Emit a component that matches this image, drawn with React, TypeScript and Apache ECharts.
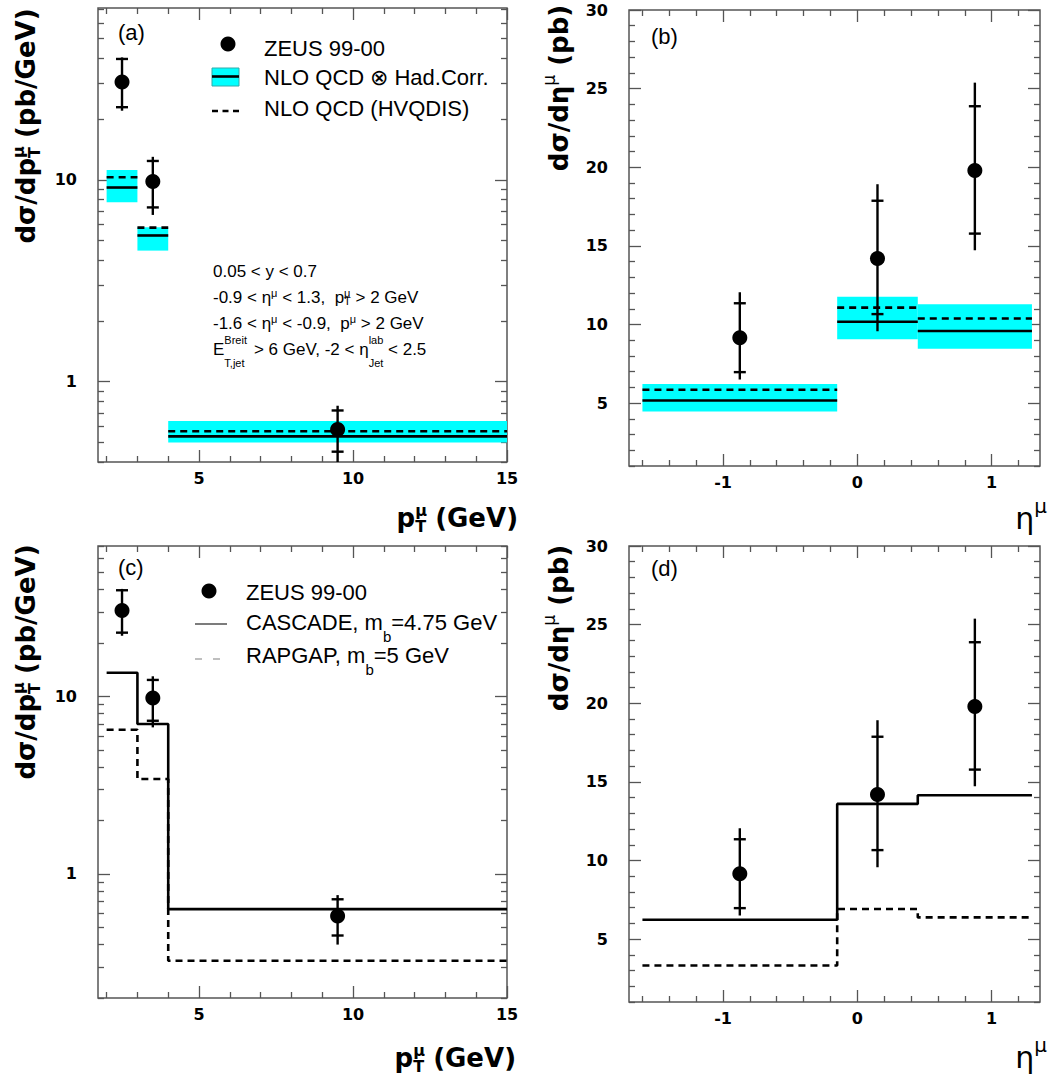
import React, { useEffect, useRef } from 'react';
import * as echarts from 'echarts';

// ---------------- data ----------------
const ptEdges = [2, 3, 4, 15];
const ptCenters = [2.5, 3.5, 9.5];
const ptData = [30.5, 9.8, 0.58];
const ptStatLo = [22.9, 7.3, 0.45];
const ptStatHi = [39.7, 12.4, 0.72];
const ptTotLo = [22.0, 6.7, 0.4];
const ptTotHi = [40.4, 13.0, 0.76];
const ptNloLo = [7.74, 4.46, 0.499];
const ptNloHi = [11.2, 5.82, 0.638];
const ptNloHad = [9.16, 5.3, 0.536];
const ptNloHvq = [10.3, 5.8, 0.568];
const ptCascade = [13.6, 7.0, 0.634];
const ptRapgap = [6.5, 3.43, 0.324];

const etaEdges = [-1.6, -0.15, 0.45, 1.3];
const etaCenters = [-0.875, 0.15, 0.875];
const etaData = [9.15, 14.2, 19.8];
const etaStatLo = [6.97, 10.66, 15.78];
const etaStatHi = [11.35, 17.87, 23.88];
const etaTotLo = [6.5, 9.57, 14.72];
const etaTotHi = [12.05, 18.92, 25.38];
const etaNloLo = [4.47, 9.06, 8.46];
const etaNloHi = [6.22, 11.77, 11.28];
const etaNloHad = [5.17, 10.17, 9.59];
const etaNloHvq = [5.85, 11.07, 10.38];
const etaCascade = [6.23, 13.6, 14.15];
const etaRapgap = [3.32, 6.91, 6.38];

// tick values
const ptMajorTicks = [5, 10, 15];
const ptMinorTicks = [2, 3, 4, 6, 7, 8, 9, 11, 12, 13, 14];
const etaMajorTicks = [-1, 0, 1];
const etaMinorTicks = [-1.6, -1.4, -1.2, -0.8, -0.6, -0.4, -0.2, 0.2, 0.4, 0.6, 0.8, 1.2];
const logMajorTicks = [1, 10];
const logMinorTicksA = [0.4, 0.5, 0.6, 0.7, 0.8, 0.9, 2, 3, 4, 5, 6, 7, 8, 9, 20, 30, 40, 50, 60, 70];
const logMinorTicksC = [0.2, 0.3, 0.4, 0.5, 0.6, 0.7, 0.8, 0.9, 2, 3, 4, 5, 6, 7, 8, 9, 20, 30, 40, 50, 60, 70];
const linMajorTicks = [5, 10, 15, 20, 25, 30];
const linMinorTicks = [1, 2, 3, 4, 6, 7, 8, 9, 11, 12, 13, 14, 16, 17, 18, 19, 21, 22, 23, 24, 26, 27, 28, 29];

// ---------------- styles / layout ----------------
const FRAME = '#555';
const CYAN = '#00ffff';
const TICKFONT = 'DejaVu Sans';
const TXTFONT = 'Liberation Sans';

type Panel = {
  kind: 'pt' | 'eta';
  model: 'nlo' | 'mc';
  grid: { left: number; top: number; width: number; height: number };
  xMin: number; xMax: number; yMin: number; yMax: number;
  log: boolean;
  yMinor: number[];
};

const panels: Panel[] = [
  { kind: 'pt', model: 'nlo', grid: { left: 98, top: 8, width: 409, height: 454 }, xMin: 1.72, xMax: 15, yMin: 0.4, yMax: 71, log: true, yMinor: logMinorTicksA },
  { kind: 'eta', model: 'nlo', grid: { left: 629, top: 10, width: 411, height: 456 }, xMin: -1.7, xMax: 1.36, yMin: 1, yMax: 30, log: false, yMinor: linMinorTicks },
  { kind: 'pt', model: 'mc', grid: { left: 98, top: 546, width: 409, height: 452 }, xMin: 1.72, xMax: 15, yMin: 0.2, yMax: 70.5, log: true, yMinor: logMinorTicksC },
  { kind: 'eta', model: 'mc', grid: { left: 629, top: 546, width: 411, height: 456 }, xMin: -1.7, xMax: 1.36, yMin: 1, yMax: 30, log: false, yMinor: linMinorTicks },
];

function tickAxis(gridIndex: number, position: string, min: number, max: number, ticks: number[], len: number, labels: boolean, fmt?: (v: number) => string, margin = 8) {
  return {
    type: 'value',
    gridIndex,
    position,
    min,
    max,
    axisLine: { show: false, onZero: false },
    splitLine: { show: false },
    minorTick: { show: false },
    axisTick: { show: true, inside: true, length: len, customValues: ticks, lineStyle: { color: FRAME, width: 1.3 } },
    axisLabel: labels
      ? { show: true, customValues: ticks, margin, fontFamily: TICKFONT, fontWeight: 'bold', fontSize: 16, color: '#000', formatter: fmt }
      : { show: false },
  };
}

const renderBand = (_p: any, api: any) => {
  const p1 = api.coord([api.value(0), api.value(3)]);
  const p2 = api.coord([api.value(1), api.value(2)]);
  return { type: 'rect', shape: { x: p1[0], y: p1[1], width: p2[0] - p1[0], height: p2[1] - p1[1] }, style: { fill: CYAN } };
};

const renderSeg = (dashed: boolean) => (_p: any, api: any) => {
  const p1 = api.coord([api.value(0), api.value(2)]);
  const p2 = api.coord([api.value(1), api.value(2)]);
  return {
    type: 'line',
    shape: { x1: p1[0], y1: p1[1], x2: p2[0], y2: p2[1] },
    style: { stroke: '#000', lineWidth: 2.6, lineDash: dashed ? [7, 5] : null, fill: null },
  };
};

const renderErr = (_p: any, api: any) => {
  const x = api.value(0);
  const tLo = api.coord([x, api.value(2)]);
  const tHi = api.coord([x, api.value(3)]);
  const sLo = api.coord([x, api.value(4)]);
  const sHi = api.coord([x, api.value(5)]);
  const st = { stroke: '#000', lineWidth: 2.4 };
  const hw = 6;
  return {
    type: 'group',
    children: [
      { type: 'line', shape: { x1: tHi[0], y1: tHi[1], x2: tLo[0], y2: tLo[1] }, style: st },
      { type: 'line', shape: { x1: sHi[0] - hw, y1: sHi[1], x2: sHi[0] + hw, y2: sHi[1] }, style: st },
      { type: 'line', shape: { x1: sLo[0] - hw, y1: sLo[1], x2: sLo[0] + hw, y2: sLo[1] }, style: st },
    ],
  };
};

const histPoints = (edges: number[], vals: number[]) => edges.map((e, i) => [e, vals[Math.min(i, vals.length - 1)]]);

// ---------------- text helpers ----------------
function txt(x: number, y: number, text: string, extra: any = {}, el: any = {}) {
  const align = extra.align || 'left';
  return {
    type: 'text',
    x,
    y,
    silent: true,
    ...el,
    style: {
      text,
      fontFamily: TXTFONT,
      fontSize: 22,
      fill: '#000',
      ...extra,
      align,
      verticalAlign: 'middle',
      textAlign: align,
      textVerticalAlign: 'middle',
    },
  };
}

const L = { align: 'left', fill: '#000' };

const titleRich = {
  m: { ...L, fontFamily: TICKFONT, fontWeight: 'bold', fontSize: 26, lineHeight: 36 },
  sz: { ...L, fontFamily: TICKFONT, fontWeight: 'bold', fontSize: 16, height: 20, verticalAlign: 'top', width: 0 },
  sb: { ...L, fontFamily: TICKFONT, fontWeight: 'bold', fontSize: 16, height: 20, verticalAlign: 'bottom' },
  su: { ...L, fontFamily: TICKFONT, fontWeight: 'normal', fontSize: 17, height: 16, verticalAlign: 'top' },
};

const etaRich = {
  e: { ...L, fontFamily: TICKFONT, fontSize: 30, lineHeight: 40 },
  u: { ...L, fontFamily: TICKFONT, fontSize: 20, height: 14, verticalAlign: 'top' },
};

const annRich = {
  n: { ...L, fontFamily: TXTFONT, fontSize: 17, lineHeight: 28 },
  s1: { ...L, fontFamily: TXTFONT, fontSize: 11, height: 18, verticalAlign: 'top' },
  s1z: { ...L, fontFamily: TXTFONT, fontSize: 11, height: 18, verticalAlign: 'top', width: 0 },
  b1: { ...L, fontFamily: TXTFONT, fontSize: 11, height: 22, verticalAlign: 'bottom' },
  s2z: { ...L, fontFamily: TXTFONT, fontSize: 11, height: 8, verticalAlign: 'top', width: 0 },
  b2: { ...L, fontFamily: TXTFONT, fontSize: 11, height: 2, verticalAlign: 'bottom' },
};

const legRich = {
  l: { ...L, fontFamily: TXTFONT, fontSize: 22, lineHeight: 44 },
  lb: { ...L, fontFamily: TXTFONT, fontSize: 15, height: 16, verticalAlign: 'bottom' },
};

function buildOption() {
  const xAxis: any[] = [];
  const yAxis: any[] = [];
  const series: any[] = [];

  panels.forEach((p, gi) => {
    const xMaj = p.kind === 'pt' ? ptMajorTicks : etaMajorTicks;
    const xMin = p.kind === 'pt' ? ptMinorTicks : etaMinorTicks;
    const xi = xAxis.length;
    const fmtLin = (v: number) => String(v);
    xAxis.push(tickAxis(gi, 'bottom', p.xMin, p.xMax, xMaj, 12, true, fmtLin, 8));
    xAxis.push(tickAxis(gi, 'bottom', p.xMin, p.xMax, xMin, 6, false));
    xAxis.push(tickAxis(gi, 'top', p.xMin, p.xMax, xMaj, 12, false));
    xAxis.push(tickAxis(gi, 'top', p.xMin, p.xMax, xMin, 6, false));

    const yi = yAxis.length;
    yAxis.push(
      p.log
        ? { type: 'log', logBase: 10, gridIndex: gi, min: p.yMin, max: p.yMax, show: false, axisLine: { onZero: false } }
        : { type: 'value', gridIndex: gi, min: p.yMin, max: p.yMax, show: false, axisLine: { onZero: false } }
    );
    const tf = p.log ? (v: number) => Math.log10(v) : (v: number) => v;
    const yMaj = (p.log ? logMajorTicks : linMajorTicks).map(tf);
    const yMinor = p.yMinor.map(tf);
    const fmtY = p.log ? (v: number) => String(Math.round(Math.pow(10, v))) : (v: number) => String(v);
    const lo = tf(p.yMin);
    const hi = tf(p.yMax);
    yAxis.push(tickAxis(gi, 'left', lo, hi, yMaj, 12, true, fmtY, 21));
    yAxis.push(tickAxis(gi, 'left', lo, hi, yMinor, 6, false));
    yAxis.push(tickAxis(gi, 'right', lo, hi, yMaj, 12, false));
    yAxis.push(tickAxis(gi, 'right', lo, hi, yMinor, 6, false));

    const edges = p.kind === 'pt' ? ptEdges : etaEdges;
    const centers = p.kind === 'pt' ? ptCenters : etaCenters;
    const vals = p.kind === 'pt' ? ptData : etaData;
    const sLo = p.kind === 'pt' ? ptStatLo : etaStatLo;
    const sHi = p.kind === 'pt' ? ptStatHi : etaStatHi;
    const tLo = p.kind === 'pt' ? ptTotLo : etaTotLo;
    const tHi = p.kind === 'pt' ? ptTotHi : etaTotHi;
    const common = { xAxisIndex: xi, yAxisIndex: yi, silent: true, animation: false };

    if (p.model === 'nlo') {
      const nLo = p.kind === 'pt' ? ptNloLo : etaNloLo;
      const nHi = p.kind === 'pt' ? ptNloHi : etaNloHi;
      const had = p.kind === 'pt' ? ptNloHad : etaNloHad;
      const hvq = p.kind === 'pt' ? ptNloHvq : etaNloHvq;
      series.push({
        ...common, type: 'custom', name: 'NLO QCD band', z: 1,
        encode: { x: [0, 1], y: [2, 3] },
        data: nLo.map((v, i) => [edges[i], edges[i + 1], v, nHi[i]]),
        renderItem: renderBand,
      });
      series.push({
        ...common, type: 'custom', name: 'NLO QCD ⊗ Had.Corr.', z: 2,
        encode: { x: [0, 1], y: 2 },
        data: had.map((v, i) => [edges[i], edges[i + 1], v]),
        renderItem: renderSeg(false),
      });
      series.push({
        ...common, type: 'custom', name: 'NLO QCD (HVQDIS)', z: 2,
        encode: { x: [0, 1], y: 2 },
        data: hvq.map((v, i) => [edges[i], edges[i + 1], v]),
        renderItem: renderSeg(true),
      });
    } else {
      const cas = p.kind === 'pt' ? ptCascade : etaCascade;
      const rap = p.kind === 'pt' ? ptRapgap : etaRapgap;
      series.push({
        ...common, type: 'line', name: 'CASCADE', step: 'end', z: 2, symbol: 'none',
        data: histPoints(edges, cas),
        lineStyle: { color: '#000', width: 2.6, type: 'solid' },
      });
      series.push({
        ...common, type: 'line', name: 'RAPGAP', step: 'end', z: 2, symbol: 'none',
        data: histPoints(edges, rap),
        lineStyle: { color: '#000', width: 2.6, type: [7, 5] },
      });
    }

    series.push({
      ...common, type: 'custom', name: 'ZEUS errors', z: 3,
      encode: { x: 0, y: [1, 2, 3, 4, 5] },
      data: centers.map((c, i) => [c, vals[i], tLo[i], tHi[i], sLo[i], sHi[i]]),
      renderItem: renderErr,
    });
    series.push({
      ...common, type: 'scatter', name: 'ZEUS 99-00', z: 4,
      symbol: 'circle', symbolSize: 15,
      itemStyle: { color: '#000', opacity: 1 },
      data: centers.map((c, i) => [c, vals[i]]),
    });
  });

  const graphic: any[] = [
    // panel labels
    txt(118, 32, '(a)'),
    txt(651, 36, '(b)'),
    txt(118, 567, '(c)'),
    txt(651, 568, '(d)'),

    // legend (a)
    { type: 'circle', silent: true, shape: { cx: 228, cy: 44, r: 7.5 }, style: { fill: '#000' } },
    txt(264, 48, 'ZEUS 99-00'),
    { type: 'rect', silent: true, shape: { x: 212, y: 68, width: 27, height: 18 }, style: { fill: CYAN, stroke: '#33aaaa', lineWidth: 1 } },
    { type: 'line', silent: true, shape: { x1: 212, y1: 76.5, x2: 239, y2: 76.5 }, style: { stroke: '#000', lineWidth: 2.6 } },
    txt(264, 77, 'NLO QCD ⊗ Had.Corr.'),
    { type: 'line', silent: true, shape: { x1: 212, y1: 111, x2: 239, y2: 111 }, style: { stroke: '#000', lineWidth: 2.6, lineDash: [6, 4.5] } },
    txt(264, 108, 'NLO QCD (HVQDIS)'),

    // cuts annotation (a)
    txt(213, 271, '{n|0.05 < y < 0.7}', { rich: annRich }),
    txt(213, 297.5, '{n|-0.9 < η}{s1|μ}{n| < 1.3,  p}{s1z|μ}{b1|T}{n| > 2 GeV}', { rich: annRich }),
    txt(213, 323.5, '{n|-1.6 < η}{s1|μ}{n| < -0.9,  p}{s1|μ}{n| > 2 GeV}', { rich: annRich }),
    txt(213, 349.5, '{n|E}{s2z|Breit}{b2|T,jet}{n|  > 6 GeV, -2 < η}{s2z|lab}{b2|Jet}{n| < 2.5}', { rich: annRich }),

    // legend (c)
    { type: 'circle', silent: true, shape: { cx: 209, cy: 591, r: 7.5 }, style: { fill: '#000' } },
    txt(246, 592, 'ZEUS 99-00'),
    { type: 'line', silent: true, shape: { x1: 195, y1: 624, x2: 227, y2: 624 }, style: { stroke: '#444', lineWidth: 1.4 } },
    txt(246, 622, '{l|CASCADE, m}{lb|b}{l|=4.75 GeV}', { rich: legRich }),
    { type: 'line', silent: true, shape: { x1: 195, y1: 659, x2: 227, y2: 659 }, style: { stroke: '#aaa', lineWidth: 1.4, lineDash: [7, 11] } },
    txt(246, 655.5, '{l|RAPGAP, m}{lb|b}{l|=5 GeV}', { rich: legRich }),

    // axis titles
    txt(26, 126, '{m|dσ/dp}{sz|μ}{sb|T}{m| (pb/GeV)}', { rich: titleRich, align: 'center' }, { rotation: Math.PI / 2 }),
    txt(26, 662, '{m|dσ/dp}{sz|μ}{sb|T}{m| (pb/GeV)}', { rich: titleRich, align: 'center' }, { rotation: Math.PI / 2 }),
    txt(559, 88, '{m|dσ/dη}{su|μ}{m| (pb)}', { rich: titleRich, align: 'center' }, { rotation: Math.PI / 2 }),
    txt(559, 628, '{m|dσ/dη}{su|μ}{m| (pb)}', { rich: titleRich, align: 'center' }, { rotation: Math.PI / 2 }),
    txt(518, 518, '{m|p}{sz|μ}{sb|T}{m| (GeV)}', { rich: titleRich, align: 'right' }),
    txt(516, 1058, '{m|p}{sz|μ}{sb|T}{m| (GeV)}', { rich: titleRich, align: 'right' }),
    txt(1047, 518.5, '{e|η}{u|μ}', { rich: etaRich, align: 'right' }),
    txt(1047, 1057.5, '{e|η}{u|μ}', { rich: etaRich, align: 'right' }),
  ];

  return {
    animation: false,
    backgroundColor: '#fff',
    grid: panels.map((p) => ({
      ...p.grid,
      show: true,
      borderColor: FRAME,
      borderWidth: 1.5,
      backgroundColor: 'transparent',
      containLabel: false,
      outerBoundsMode: 'none',
    })),
    xAxis,
    yAxis,
    series,
    graphic,
  };
}

export default function App() {
  const ref = useRef<HTMLDivElement>(null);
  useEffect(() => {
    if (!ref.current) return;
    const chart = echarts.init(ref.current, undefined, { renderer: 'svg' });
    chart.setOption(buildOption() as any);
    return () => chart.dispose();
  }, []);
  return (
    <div
      ref={ref}
      style={{ position: 'absolute', left: 0, top: 0, width: 1052, height: 1081, background: '#fff' }}
    />
  );
}
